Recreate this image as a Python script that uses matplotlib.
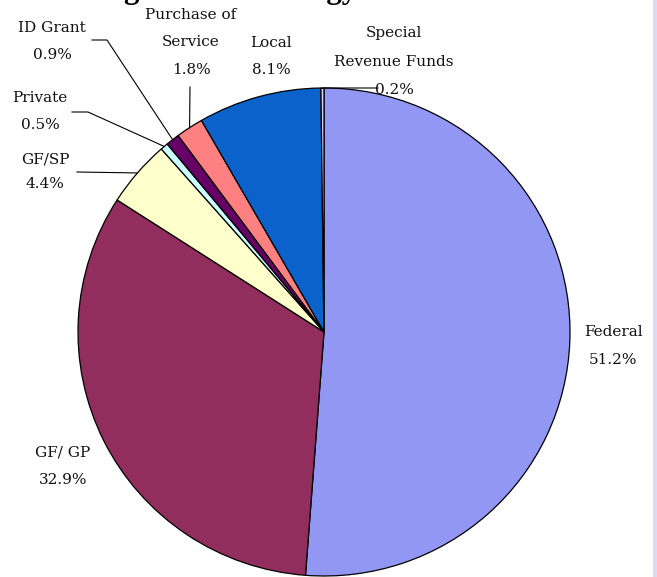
import numpy as np
import matplotlib.pyplot as plt
from matplotlib.patches import Rectangle

# funding shares, clockwise from 12 o'clock
names = ['Federal', 'GF/ GP', 'GF/SP', 'Private', 'ID Grant',
         'Purchase of\nService', 'Local', 'Special\nRevenue Funds']
shares = [51.2, 32.9, 4.4, 0.5, 0.9, 1.8, 8.1, 0.2]
colors = ['#9397F4', '#912E5E', '#FFFFCC', '#CCFFFF', '#660066',
          '#FF8080', '#0A62CA', '#CCCCFF']

# label placement in pixels: (centre x, first line y, line gap)
label_pos = [(613, 332, 28), (63, 452, 28), (45, 160, 24), (40, 98, 27),
             (52, 28, 27), (191, 15, 27.5), (271, 43, 27), (394, 33, 28.5)]
# leader lines: points in pixels, the last point lands on the wedge rim
leaders = {2: [(77, 172)], 3: [(72, 112), (88, 112)], 4: [(92, 40), (107, 40)],
           5: [(190, 87)], 7: [(378, 88)]}

W, H = 657, 577
CX, CY, RX, RY = 324, 332, 246, 244


def px(x, y):
    return (x - CX) / RX, (CY - y) / RY


fig = plt.figure(figsize=(W / 100, H / 100), dpi=100)
ax = fig.add_axes([0, 0, 1, 1])

wedges, _ = ax.pie(shares, colors=colors, startangle=90, counterclock=False,
                   radius=1, center=(0, 0),
                   wedgeprops=dict(edgecolor='black', linewidth=0.9))

ax.set_aspect('auto')
ax.set_xlim(px(0, 0)[0], px(W, 0)[0])
ax.set_ylim(px(0, H)[1], px(0, 0)[1])
ax.axis('off')

lab_font = dict(family='DejaVu Serif', fontsize=11.0, color='#111111')
for name, v, (lx, ly, gap) in zip(names, shares, label_pos):
    lines = name.split('\n') + [f'{v:.1f}%']
    for k, line in enumerate(lines):
        x, y = px(lx, ly + k * gap)
        ax.text(x, y, line, ha='center', va='center', **lab_font)

for i, pts in leaders.items():
    w = wedges[i]
    mid = np.deg2rad((w.theta1 + w.theta2) / 2)
    xs = [px(*p)[0] for p in pts] + [np.cos(mid)]
    ys = [px(*p)[1] for p in pts] + [np.sin(mid)]
    ax.plot(xs, ys, color='black', lw=0.8)

# chart title, mostly above the visible area
tx, ty = px(27, -2)
ax.text(tx, ty, 'Funding Source Strategy', ha='left', va='baseline',
        family='Liberation Serif', fontweight='bold', fontsize=22.3)

fig.add_artist(Rectangle((653 / W, 0), 4 / W, 1, transform=fig.transFigure,
                         facecolor='#DCDCF6', edgecolor='none'))

fig.savefig('out.png', dpi=100)
